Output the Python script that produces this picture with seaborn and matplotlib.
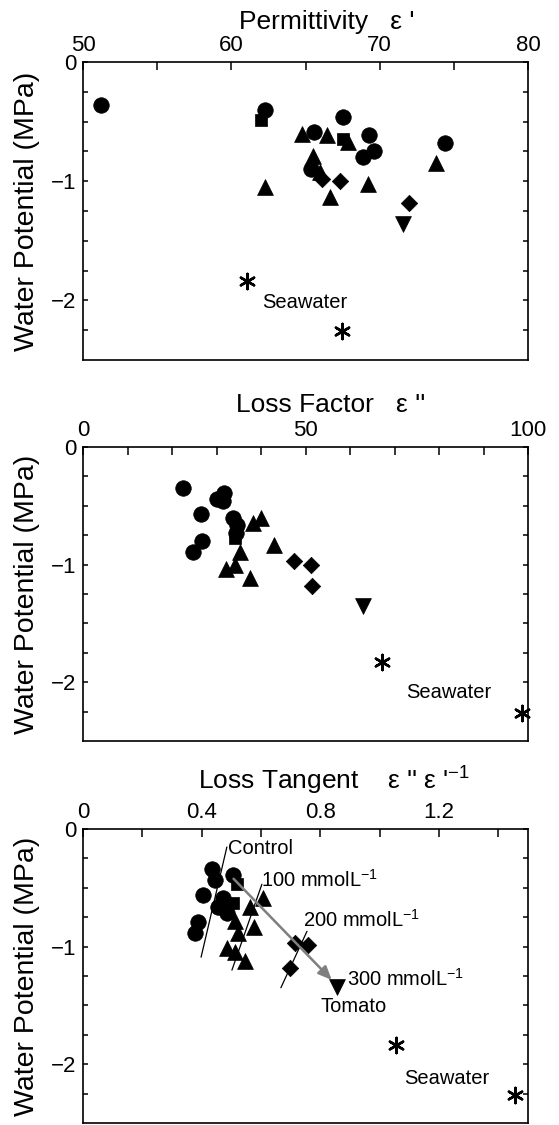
import matplotlib
matplotlib.use("Agg")
import matplotlib.pyplot as plt
import seaborn as sns
import numpy as np

sns.set_style("white")
plt.rcParams['font.family'] = ['Liberation Sans', 'DejaVu Sans']
plt.rcParams['mathtext.fontset'] = 'custom'
plt.rcParams['mathtext.rm'] = 'Liberation Sans'
plt.rcParams['mathtext.it'] = 'Liberation Sans:italic'
for k in ('text.color', 'axes.labelcolor', 'xtick.color', 'ytick.color'):
    plt.rcParams[k] = 'black'

# ---------------- data ----------------
# Panel 1: permittivity
p1_circle_x = [51.2, 62.28, 67.5, 65.58, 69.3, 69.59, 68.87, 74.4, 65.34]
p1_circle_y = [-0.36, -0.405, -0.46, -0.587, -0.61, -0.75, -0.80, -0.676, -0.90]
p1_square_x = [61.97, 67.5]
p1_square_y = [-0.486, -0.648]
p1_tri_x = [64.78, 66.42, 67.86, 65.5, 66.0, 62.28, 66.66, 69.23, 73.82]
p1_tri_y = [-0.60, -0.615, -0.667, -0.79, -0.92, -1.05, -1.13, -1.02, -0.85]
p1_dia_x = [66.13, 67.33, 71.95]
p1_dia_y = [-0.978, -1.0, -1.18]
p1_down_x = [71.54]
p1_down_y = [-1.355]
p1_sea_x = [61.06, 67.45]
p1_sea_y = [-1.84, -2.26]

# Panel 2: loss factor
p2_circle_x = [22.4, 31.7, 30.0, 31.5, 26.6, 33.7, 34.7, 34.3, 26.8, 24.8]
p2_circle_y = [-0.35, -0.39, -0.44, -0.46, -0.57, -0.60, -0.66, -0.73, -0.80, -0.89]
p2_square_x = [31.0, 34.1]
p2_square_y = [-0.45, -0.77]
p2_tri_x = [40.0, 38.1, 42.9, 35.3, 32.1, 34.2, 37.5]
p2_tri_y = [-0.60, -0.65, -0.83, -0.89, -1.04, -1.0, -1.11]
p2_dia_x = [47.5, 51.2, 51.5]
p2_dia_y = [-0.97, -1.0, -1.18]
p2_down_x = [62.9]
p2_down_y = [-1.35]
p2_sea_x = [67.3, 98.7]
p2_sea_y = [-1.83, -2.26]

# Panel 3: loss tangent
p3_circle_x = [0.436, 0.445, 0.507, 0.406, 0.473, 0.456, 0.484, 0.387, 0.378]
p3_circle_y = [-0.340, -0.434, -0.391, -0.562, -0.59, -0.661, -0.718, -0.789, -0.888]
p3_square_x = [0.518, 0.507]
p3_square_y = [-0.47, -0.632]
p3_tri_x = [0.512, 0.608, 0.563, 0.577, 0.524, 0.484, 0.512, 0.546]
p3_tri_y = [-0.78, -0.59, -0.661, -0.83, -0.888, -1.01, -1.044, -1.123]
p3_dia_x = [0.715, 0.760, 0.698]
p3_dia_y = [-0.973, -0.987, -1.18]
p3_down_x = [0.855]
p3_down_y = [-1.342]
p3_sea_x = [1.055, 1.455]
p3_sea_y = [-1.84, -2.26]

# Panel 3 annotation lines (x0, y0, x1, y1)
control_line = [0.398, -1.09, 0.485, -0.153]
line_100 = [0.502, -1.20, 0.603, -0.47]
line_200 = [0.667, -1.35, 0.755, -0.87]
arrow_xy = [0.501, -0.406, 0.845, -1.30]

panel_titles = ["Permittivity   \u03b5 '", "Loss Factor   \u03b5 ''",
                "Loss Tangent    \u03b5 '' \u03b5 '$^{-1}$"]
x_limits = [(50, 80), (0, 100), (0, 1.5)]
x_major = [[50, 60, 70, 80], [0, 50, 100], [0, 0.4, 0.8, 1.2]]
x_major_labels = [["50", "60", "70", "80"], ["0", "50", "100"], ["0", "0.4", "0.8", "1.2"]]
x_minor = [[55, 65, 75], list(range(10, 100, 10)), [0.2, 0.6, 1.0, 1.4]]
y_major = [0, -1, -2]
y_major_labels = ["0", "\u22121", "\u22122"]
y_minor = [-0.25, -0.5, -0.75, -1.25, -1.5, -1.75, -2.25]

panels = [
    (p1_circle_x, p1_circle_y, p1_square_x, p1_square_y, p1_tri_x, p1_tri_y,
     p1_dia_x, p1_dia_y, p1_down_x, p1_down_y, p1_sea_x, p1_sea_y),
    (p2_circle_x, p2_circle_y, p2_square_x, p2_square_y, p2_tri_x, p2_tri_y,
     p2_dia_x, p2_dia_y, p2_down_x, p2_down_y, p2_sea_x, p2_sea_y),
    (p3_circle_x, p3_circle_y, p3_square_x, p3_square_y, p3_tri_x, p3_tri_y,
     p3_dia_x, p3_dia_y, p3_down_x, p3_down_y, p3_sea_x, p3_sea_y),
]

W, H = 559, 1125
fig = plt.figure(figsize=(W / 100, H / 100), dpi=100)

# axes boxes in pixels: (left, top, right, bottom)
boxes = [(83, 62, 528, 360), (83, 447, 528, 741), (83, 829, 528, 1123)]
title_pos = [(327, 22), (331, 405), (334, 781)]
seawater_pos = [(62.07, -2.02), (72.6, -2.09), (1.082, -2.12)]

FS_TICK = 16
FS_TITLE = 19
FS_YLAB = 20.5
FS_ANN = 14.5

for i, (box, data) in enumerate(zip(boxes, panels)):
    l, t, r, b = box
    ax = fig.add_axes([l / W, 1 - b / H, (r - l) / W, (b - t) / H])
    cx, cy, sx, sy, tx, ty, dx, dy, vx, vy, ax_, ay_ = data
    kw = dict(ax=ax, color='black', edgecolor='black', linewidth=0.5, legend=False, zorder=3)
    sns.scatterplot(x=cx, y=cy, marker='o', s=125, **kw)
    sns.scatterplot(x=sx, y=sy, marker='s', s=70, **kw)
    sns.scatterplot(x=tx, y=ty, marker='^', s=130, **kw)
    sns.scatterplot(x=dx, y=dy, marker='D', s=70, **kw)
    sns.scatterplot(x=vx, y=vy, marker='v', s=130, **kw)
    sns.scatterplot(x=ax_, y=ay_, marker=(6, 2, 0), s=120, ax=ax, color='black',
                    linewidth=1.8, legend=False, zorder=3, clip_on=False)

    ax.set_xlim(*x_limits[i])
    ax.set_ylim(-2.5, 0)
    ax.set_xlabel("")
    ax.set_ylabel("")
    ax.xaxis.tick_top()
    ax.set_xticks(x_major[i])
    ax.set_xticklabels(x_major_labels[i], fontsize=FS_TICK)
    ax.set_xticks(x_minor[i], minor=True)
    ax.set_yticks(y_major)
    ax.set_yticklabels(y_major_labels, fontsize=FS_TICK)
    ax.set_yticks(y_minor, minor=True)
    ax.tick_params(axis='x', which='both', direction='in', top=True, bottom=False,
                   length=5.5, width=1.1, pad=4, colors='black')
    ax.tick_params(axis='y', which='both', direction='in', left=True, right=True,
                   length=3.6, width=1.1, pad=5, colors='black')
    for sp in ax.spines.values():
        sp.set_visible(True)
        sp.set_color('black')
        sp.set_linewidth(1.2)

    sxp, syp = seawater_pos[i]
    ax.text(sxp, syp, "Seawater", fontsize=FS_ANN, ha='left', va='center')

    fig.text(title_pos[i][0] / W, 1 - title_pos[i][1] / H, panel_titles[i],
             fontsize=FS_TITLE, ha='center', va='center')
    fig.text(27 / W, 1 - ((t + b) / 2) / H, "Water Potential (MPa)",
             fontsize=FS_YLAB, rotation=90, ha='center', va='center')

    if i == 2:
        for ln in (control_line, line_100, line_200):
            ax.plot([ln[0], ln[2]], [ln[1], ln[3]], color='black', lw=0.9, zorder=2)
        ax.annotate("", xy=(arrow_xy[2], arrow_xy[3]), xytext=(arrow_xy[0], arrow_xy[1]),
                    arrowprops=dict(arrowstyle='-|>,head_length=0.8,head_width=0.35',
                                    color='#7f7f7f', lw=1.8), zorder=4)
        ax.text(0.49, -0.163, "Control", fontsize=FS_ANN, ha='left', va='center')
        ax.text(0.600, -0.43, "100 mmolL$^{-1}$", fontsize=FS_ANN, ha='left', va='center')
        ax.text(0.743, -0.775, "200 mmolL$^{-1}$", fontsize=FS_ANN, ha='left', va='center')
        ax.text(0.89, -1.277, "300 mmolL$^{-1}$", fontsize=FS_ANN, ha='left', va='center')
        ax.text(0.80, -1.51, "Tomato", fontsize=FS_ANN, ha='left', va='center')

fig.savefig("out.png", dpi=100)
